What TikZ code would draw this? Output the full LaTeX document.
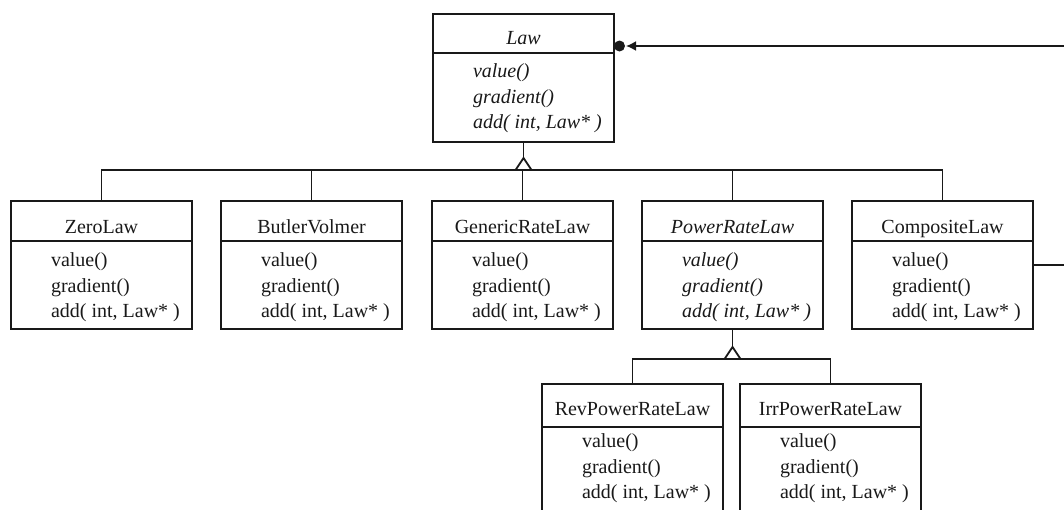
\documentclass[tikz,border=0pt]{standalone}
\usepackage{fontspec}
\setmainfont{Liberation Serif}
\usetikzlibrary{arrows.meta,calc}

% #1 name, #2 left, #3 top, #4 header height, #5 title baseline,
% #6 first method baseline, #7 font switch, #8 title
\newcommand\umlclass[8]{%
  \node[classbox, anchor=north west] (#1) at (#2,#3) {};
  \draw ($(#1.north west)+(0,#4)$) -- ($(#1.north east)+(0,#4)$);
  \node[lbl, anchor=base] (#1-t) at ($(#1.north)+(0,#5)$) {#7#8};
  \node[lbl, anchor=base west] (#1-m1) at ($(#1.north west)+(40,#6)$) {#7value()};
  \node[lbl, anchor=base west] (#1-m2) at ($(#1.north west)+(40,#6+26)$) {#7gradient()};
  \node[lbl, anchor=base west] (#1-m3) at ($(#1.north west)+(40,#6+51)$) {#7add( int, Law* )};
}

\begin{document}
\begin{tikzpicture}[x=1pt, y=-1pt, line width=1.8pt, draw=black!90,
  classbox/.style={draw, fill=white, inner sep=0pt, outer sep=0pt,
    minimum width=181pt, minimum height=128pt},
  lbl/.style={inner sep=0pt, outer sep=0pt, text=black!90,
    font=\fontsize{20}{24}\selectfont},
  inherit/.style={draw, fill=white, line join=miter}]
\useasboundingbox (0,0) rectangle (1064,509);
\clip (0,0) rectangle (1064,509);

% abstract base class
\umlclass{law}{433}{14}{39}{30}{63}{\itshape}{Law}

% first level of subclasses
\umlclass{zero}{11}{201}{40}{32}{65}{}{ZeroLaw}
\umlclass{butler}{221}{201}{40}{32}{65}{}{ButlerVolmer}
\umlclass{generic}{432}{201}{40}{32}{65}{}{GenericRateLaw}
\umlclass{power}{642}{201}{40}{32}{65}{\itshape}{PowerRateLaw}
\umlclass{composite}{852}{201}{40}{32}{65}{}{CompositeLaw}

% second level, below PowerRateLaw
\tikzset{classbox/.append style={minimum height=150pt}}
\umlclass{rev}{542}{384}{43}{31}{63}{}{RevPowerRateLaw}
\umlclass{irr}{740}{384}{43}{31}{63}{}{IrrPowerRateLaw}

% generalisation: Law <- first level
\coordinate (apex1) at ($(law.south)+(0,16)$);
\coordinate (bus1) at ($(apex1)+(0,12)$);
\draw (law.south) -- (apex1);
\draw (zero.north) -- (zero.north |- bus1) -- (composite.north |- bus1) -- (composite.north);
\foreach \c in {butler, generic, power} \draw (\c.north) -- (\c.north |- bus1);
\draw[inherit] (apex1) -- ++(-8,12) -- ++(16,0) -- cycle;

% generalisation: PowerRateLaw <- second level
\coordinate (apex2) at ($(power.south)+(0,18)$);
\coordinate (bus2) at ($(apex2)+(0,12)$);
\draw (power.south) -- (apex2);
\draw (rev.north) -- (rev.north |- bus2) -- (irr.north |- bus2) -- (irr.north);
\draw[inherit] (apex2) -- ++(-8,12) -- ++(16,0) -- cycle;

% aggregation: CompositeLaw holds Law children
\coordinate (aggin) at ($(law.north east)+(0,32)$);
\coordinate (far) at (1090,100);
\fill[black!90] ($(aggin)+(5.5,0)$) circle (5.5pt);
\draw[-{Latex[length=10pt,width=10pt]}] (composite.east) -- (composite.east -| far)
  -- (far |- aggin) -- ($(aggin)+(12,0)$);
\end{tikzpicture}
\end{document}
